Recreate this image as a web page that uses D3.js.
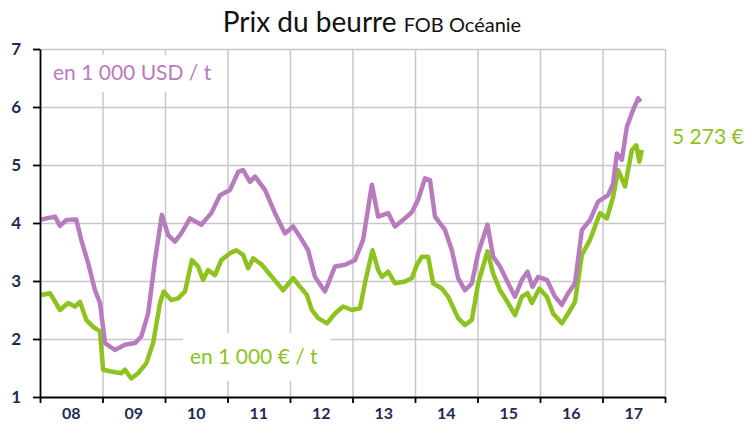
<!DOCTYPE html>
<html>
<head>
<meta charset="utf-8">
<script src="https://cdn.jsdelivr.net/npm/d3@7"></script>
<style>
  body { margin: 0; background: #fff; }
  svg { font-family: Lato, "Open Sans", sans-serif; }
</style>
</head>
<body>
<script>
// prix USD (en 1 000 USD / t), lecture du graphique
var usdDates = [2008.02, 2008.24, 2008.32, 2008.42, 2008.58, 2008.66, 2008.77, 2008.88, 2008.96,
  2009.04, 2009.20, 2009.36, 2009.52, 2009.62, 2009.73, 2009.84, 2009.95,
  2010.05, 2010.16, 2010.26, 2010.40, 2010.58, 2010.74, 2010.88,
  2011.04, 2011.17, 2011.25, 2011.36, 2011.44, 2011.60, 2011.76, 2011.92,
  2012.05, 2012.19, 2012.29, 2012.40, 2012.56, 2012.72, 2012.88,
  2013.04, 2013.17, 2013.31, 2013.41, 2013.57, 2013.68, 2013.84, 2013.95,
  2014.05, 2014.16, 2014.24, 2014.32, 2014.48, 2014.59, 2014.69, 2014.80, 2014.91,
  2015.01, 2015.16, 2015.25, 2015.36, 2015.49, 2015.60, 2015.71, 2015.80, 2015.88, 2015.97,
  2016.11, 2016.24, 2016.35, 2016.45, 2016.56, 2016.67, 2016.80, 2016.93,
  2017.09, 2017.17, 2017.23, 2017.31, 2017.39, 2017.49, 2017.57, 2017.61];
var usdValues = [4.06, 4.11, 3.95, 4.05, 4.06, 3.71, 3.31, 2.84, 2.62,
  1.93, 1.81, 1.90, 1.93, 2.04, 2.44, 3.36, 4.14,
  3.79, 3.68, 3.82, 4.08, 3.97, 4.17, 4.48,
  4.57, 4.88, 4.91, 4.71, 4.80, 4.57, 4.17, 3.82,
  3.94, 3.71, 3.53, 3.07, 2.82, 3.25, 3.28,
  3.36, 3.71, 4.66, 4.11, 4.17, 3.94, 4.08, 4.19,
  4.40, 4.77, 4.74, 4.11, 3.88, 3.53, 3.05, 2.84, 2.96,
  3.48, 3.97, 3.42, 3.25, 2.96, 2.73, 3.02, 3.16, 2.90, 3.07,
  3.02, 2.73, 2.59, 2.79, 2.96, 3.88, 4.05, 4.37,
  4.48, 4.68, 5.20, 5.09, 5.66, 5.95, 6.15, 6.09];

// prix EUR (en 1 000 € / t)
var eurDates = [2008.02, 2008.16, 2008.32, 2008.45, 2008.56, 2008.64, 2008.74, 2008.85, 2008.96,
  2009.01, 2009.14, 2009.30, 2009.36, 2009.46, 2009.57, 2009.70, 2009.81, 2009.92, 2009.98,
  2010.10, 2010.21, 2010.32, 2010.43, 2010.53, 2010.61, 2010.69, 2010.80, 2010.90,
  2011.04, 2011.14, 2011.25, 2011.33, 2011.41, 2011.55, 2011.71, 2011.89,
  2012.05, 2012.16, 2012.27, 2012.35, 2012.45, 2012.59, 2012.72, 2012.85, 2012.99,
  2013.12, 2013.21, 2013.32, 2013.41, 2013.47, 2013.57, 2013.68, 2013.84, 2013.95,
  2014.03, 2014.11, 2014.21, 2014.29, 2014.43, 2014.53, 2014.69, 2014.80, 2014.91,
  2015.01, 2015.16, 2015.25, 2015.36, 2015.49, 2015.60, 2015.71, 2015.80, 2015.87, 2015.99,
  2016.11, 2016.21, 2016.35, 2016.45, 2016.56, 2016.67, 2016.80, 2016.96,
  2017.07, 2017.17, 2017.25, 2017.36, 2017.47, 2017.54, 2017.59, 2017.63];
var eurValues = [2.76, 2.79, 2.50, 2.62, 2.56, 2.64, 2.33, 2.21, 2.13,
  1.47, 1.44, 1.41, 1.47, 1.32, 1.41, 1.58, 1.93, 2.62, 2.82,
  2.67, 2.70, 2.82, 3.36, 3.25, 3.02, 3.19, 3.10, 3.36,
  3.48, 3.53, 3.45, 3.22, 3.39, 3.28, 3.07, 2.84,
  3.05, 2.90, 2.76, 2.50, 2.36, 2.27, 2.44, 2.56, 2.50,
  2.53, 3.02, 3.53, 3.19, 3.07, 3.16, 2.96, 2.99, 3.05,
  3.28, 3.42, 3.42, 2.96, 2.87, 2.73, 2.36, 2.24, 2.33,
  2.96, 3.51, 3.13, 2.84, 2.62, 2.41, 2.73, 2.79, 2.62, 2.87,
  2.73, 2.44, 2.27, 2.44, 2.64, 3.45, 3.71, 4.17,
  4.08, 4.45, 4.91, 4.63, 5.26, 5.34, 5.06, 5.26];

var years = [2008, 2009, 2010, 2011, 2012, 2013, 2014, 2015, 2016, 2017, 2018];
var yearLabels = ["08", "09", "10", "11", "12", "13", "14", "15", "16", "17"];
var yTicks = [1, 2, 3, 4, 5, 6, 7];
var lastEur = "5 273 €";

function init(){
  var w = 752, h = 425;
  var left = 40, right = 665, top = 49, bottom = 397;
  var purple = "#b87cbe", green = "#8dc21f", navy = "#1f2a55";

  var svg = d3.select("body").append("svg")
    .attr("width", w)
    .attr("height", h);

  var xScale = d3.scaleLinear().domain([2008, 2018]).range([left, right]);
  var yScale = d3.scaleLinear().domain([1, 7]).range([bottom, top]);

  // grille
  svg.append("g")
    .attr("transform", "translate(0," + bottom + ")")
    .call(d3.axisBottom(xScale).tickValues(years.slice(1)).tickSize(-(bottom - top)).tickFormat(""))
    .call(g => g.select(".domain").remove())
    .selectAll("line").attr("stroke", "#c8c8c8").attr("stroke-width", 1.5);
  svg.append("g")
    .attr("transform", "translate(" + left + ",0)")
    .call(d3.axisLeft(yScale).tickValues(yTicks.slice(1)).tickSize(-(right - left)).tickFormat(""))
    .call(g => g.select(".domain").remove())
    .selectAll("line").attr("stroke", "#c8c8c8").attr("stroke-width", 1.5);

  // fonds blancs des étiquettes
  svg.append("rect").attr("x", 50).attr("y", 55).attr("width", 176).attr("height", 37).attr("fill", "#fff");
  svg.append("rect").attr("x", 183).attr("y", 333).attr("width", 148).attr("height", 48).attr("fill", "#fff");

  var line = d3.line()
    .x(d => xScale(d[0]))
    .y(d => yScale(d[1]));

  svg.append("path")
    .datum(d3.zip(eurDates, eurValues))
    .attr("d", line)
    .attr("fill", "none")
    .attr("stroke", green)
    .attr("stroke-width", 4.5)
    .attr("stroke-linejoin", "round");
  svg.append("path")
    .datum(d3.zip(usdDates, usdValues))
    .attr("d", line)
    .attr("fill", "none")
    .attr("stroke", purple)
    .attr("stroke-width", 4.5)
    .attr("stroke-linejoin", "round");

  // axes
  var yAxis = svg.append("g")
    .attr("transform", "translate(" + left + ",0)")
    .call(d3.axisLeft(yScale).tickValues(yTicks).tickSize(7).tickSizeOuter(0).tickPadding(12).tickFormat(d3.format("d")));
  var xAxis = svg.append("g")
    .attr("transform", "translate(0," + bottom + ")")
    .call(d3.axisBottom(xScale).tickValues(years).tickSize(6).tickSizeOuter(0).tickFormat(""));
  [yAxis, xAxis].forEach(function(g){
    g.selectAll("line, path").attr("stroke", "#000").attr("stroke-width", 1.8);
  });
  yAxis.selectAll("text")
    .attr("font-size", 17).attr("font-weight", "bold").attr("fill", navy)
    .attr("font-family", "Lato");

  svg.append("g").selectAll("text")
    .data(yearLabels)
    .enter()
    .append("text")
    .attr("x", (d, i) => xScale(years[i] + 0.5))
    .attr("y", 419)
    .attr("text-anchor", "middle")
    .attr("font-size", 16)
    .attr("font-weight", "bold")
    .attr("fill", navy)
    .text(d => d);

  // titre
  var title = svg.append("text")
    .attr("x", 372)
    .attr("y", 32)
    .attr("text-anchor", "middle")
    .attr("fill", "#111")
    .attr("font-size", 28);
  title.append("tspan").text("Prix du beurre ");
  title.append("tspan").attr("font-size", 20).text("FOB Océanie");

  svg.append("text")
    .attr("x", 53).attr("y", 80)
    .attr("font-size", 21)
    .attr("fill", purple)
    .text("en 1 000 USD / t");
  svg.append("text")
    .attr("x", 190).attr("y", 364)
    .attr("font-size", 21)
    .attr("fill", green)
    .text("en 1 000 € / t");
  svg.append("text")
    .attr("x", 672).attr("y", 144)
    .attr("font-size", 21)
    .attr("fill", green)
    .text(lastEur);
}
window.onload = init;
</script>
</body>
</html>
